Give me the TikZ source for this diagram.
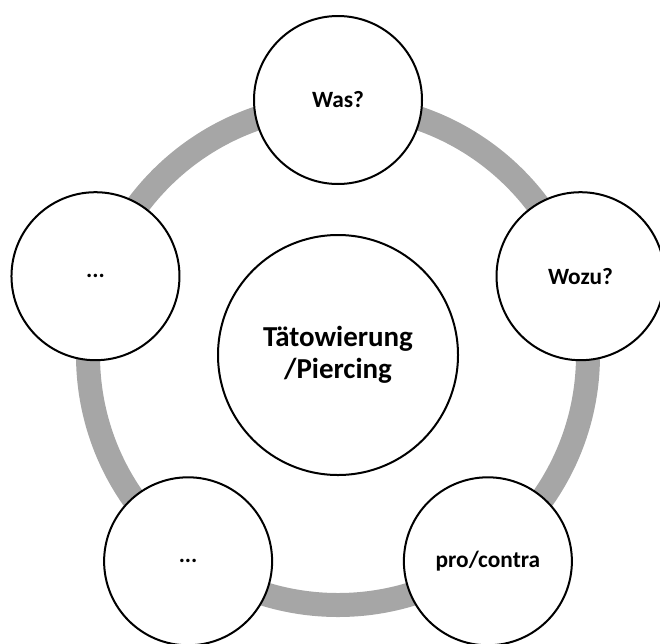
\documentclass[tikz,border=0pt]{standalone}
\usepackage{fontspec}
\setmainfont{Carlito}
\usetikzlibrary{calc}
\definecolor{ringgray}{RGB}{166,166,166}
\begin{document}
\begin{tikzpicture}[x=0.75pt,y=-0.75pt,
  bubble/.style={circle,draw=black,line width=1.5pt,fill=white,inner sep=0pt,
    minimum size=126pt,font=\fontsize{17.5}{21}\selectfont\bfseries,align=center},
  hub/.style={circle,draw=black,line width=1.5pt,fill=white,inner sep=0pt,
    minimum size=180pt,font=\fontsize{21.7}{23.8}\selectfont\bfseries,align=center},
  ring/.style={draw=ringgray,line width=18pt}
]
\useasboundingbox (0,0) rectangle (660,643);
\coordinate (c) at (338,355);
\draw[ring] (c) circle[radius=187.5pt];
\node[hub] (center) at (c) {Tätowierung\\/Piercing};
\node[bubble] (was)   at ($(c)+(90:191.25pt)$)  {Was?};
\node[bubble] (wozu)  at ($(c)+(18:191.25pt)$)  {Wozu?};
\node[bubble] (pro)   at ($(c)+(-54:191.25pt)$) {pro/contra};
\node[bubble] (bl)    at ($(c)+(-126:191.25pt)$) {...};
\node[bubble] (left)  at ($(c)+(162:191.25pt)$) {...};
\end{tikzpicture}
\end{document}
